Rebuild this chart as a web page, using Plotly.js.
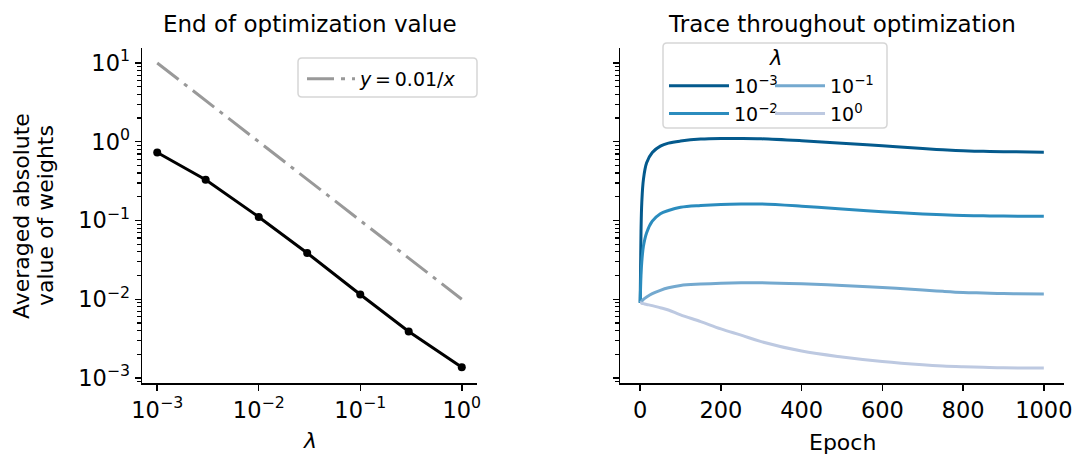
<!DOCTYPE html>
<html>
<head>
<meta charset="utf-8">
<script src="https://cdn.plot.ly/plotly-3.0.1.min.js"></script>
<style>html,body{margin:0;padding:0;background:#fff;}#chart{width:1074px;height:457px;}</style>
</head>
<body>
<div id="chart"></div>
<script>
// ---- data ----
const lambdas = [0.001, 0.003, 0.01, 0.03, 0.1, 0.3, 1];
const endValues = [0.73, 0.33, 0.111, 0.0387, 0.0115, 0.0039, 0.00137];
const refX = [0.001, 1];
const refY = [10, 0.01];

const epochs = [0, 2, 4, 8, 16, 30, 50, 70, 100, 150, 200, 250, 300, 400, 500, 600, 700, 750, 800, 850, 900, 1000];
const trace1e3 = [0.009, 0.07, 0.17, 0.33, 0.54, 0.73, 0.88, 0.96, 1.02, 1.08, 1.10, 1.10, 1.09, 1.03, 0.96, 0.89, 0.82, 0.79, 0.768, 0.755, 0.747, 0.738];
const trace1e2 = [0.009, 0.02, 0.03, 0.047, 0.07, 0.098, 0.122, 0.134, 0.147, 0.155, 0.160, 0.162, 0.162, 0.152, 0.140, 0.129, 0.121, 0.118, 0.1158, 0.1145, 0.1137, 0.113];
const trace1e1 = [0.009, 0.0092, 0.0095, 0.0100, 0.0107, 0.0118, 0.0130, 0.0140, 0.0150, 0.0156, 0.0160, 0.0162, 0.0162, 0.0157, 0.0150, 0.0141, 0.0131, 0.0126, 0.0122, 0.0120, 0.0118, 0.0117];
const trace1e0 = [0.009, 0.0090, 0.0089, 0.0088, 0.0086, 0.0083, 0.0078, 0.0073, 0.00635, 0.0052, 0.0042, 0.0035, 0.0029, 0.0022, 0.00185, 0.00162, 0.00147, 0.00142, 0.00139, 0.00137, 0.00135, 0.00134];
const seriesNames = ['10<sup>−3</sup>', '10<sup>−2</sup>', '10<sup>−1</sup>', '10<sup>0</sup>'];
const seriesColors = ['#045a8d', '#2b8cbe', '#74a9cf', '#bdc9e1'];
const seriesLegends = ['legend2', 'legend2', 'legend3', 'legend3'];

const yTickVals = [0.001, 0.01, 0.1, 1, 10];
const yTickText = ['10<sup>−3</sup>', '10<sup>−2</sup>', '10<sup>−1</sup>', '10<sup>0</sup>', '10<sup>1</sup>'];
const xTickVals = [0.001, 0.01, 0.1, 1];
const xTickText = ['10<sup>−3</sup>', '10<sup>−2</sup>', '10<sup>−1</sup>', '10<sup>0</sup>'];
const epochTicks = [0, 200, 400, 600, 800, 1000];

// minor log ticks (axis decoration)
const minorVals = [];
for (let e = -4; e <= 1; e++) for (let d = 2; d <= 9; d++) minorVals.push(d * Math.pow(10, e));

const FONT = 'DejaVu Sans, sans-serif';
const W = 1074, H = 457;
const px = v => v / W;
const py = v => 1 - v / H;

// rounded legend frame path (paper coords), decoration only
function frame(x0, y0, x1, y1, r) {
  const rx = r / W, ry = r / H;
  const X0 = px(x0), X1 = px(x1), Y0 = py(y1), Y1 = py(y0);
  return `M${X0 + rx},${Y0} L${X1 - rx},${Y0} Q${X1},${Y0} ${X1},${Y0 + ry} L${X1},${Y1 - ry} Q${X1},${Y1} ${X1 - rx},${Y1} ` +
         `L${X0 + rx},${Y1} Q${X0},${Y1} ${X0},${Y1 - ry} L${X0},${Y0 + ry} Q${X0},${Y0} ${X0 + rx},${Y0} Z`;
}

const traces = [
  {x: refX, y: refY, xaxis: 'x', yaxis: 'y', mode: 'lines', name: '<i>y</i>\u2009=\u20090.01/<i>x</i>',
   line: {color: '#999999', width: 3, dash: '27px,7px,4px,7px'}, legend: 'legend'},
  {x: lambdas, y: endValues, xaxis: 'x', yaxis: 'y', mode: 'lines+markers', showlegend: false,
   line: {color: '#000000', width: 3}, marker: {color: '#000000', size: 8}}
];
const seriesData = [trace1e3, trace1e2, trace1e1, trace1e0];
seriesData.forEach((ys, i) => {
  traces.push({x: epochs, y: ys, xaxis: 'x2', yaxis: 'y2', mode: 'lines', name: seriesNames[i],
    line: {color: seriesColors[i], width: 3, shape: 'spline', smoothing: 1},
    legend: seriesLegends[i]});
});

const axisCommon = {
  showline: true, linecolor: '#000', linewidth: 1.5, mirror: false,
  ticks: 'outside', ticklen: 6, tickwidth: 1.5, tickcolor: '#000',
  showgrid: false, zeroline: false, automargin: false,
  tickfont: {family: FONT, size: 22.5, color: '#000'}
};
const yRange = [-3.063, 1.19];
const minorTicks = {tickmode: 'array', tickvals: minorVals, ticks: 'outside', ticklen: 3.5, tickwidth: 1.2, tickcolor: '#000', showgrid: false};

const legendCommon = {
  orientation: 'v', xanchor: 'left', yanchor: 'top',
  bgcolor: 'rgba(0,0,0,0)', borderwidth: 0,
  font: {family: FONT, size: 19, color: '#000'},
  tracegroupgap: 0, itemwidth: 50
};

const layout = {
  width: W, height: H,
  margin: {l: 0, r: 0, t: 0, b: 0, autoexpand: false},
  paper_bgcolor: '#fff', plot_bgcolor: '#fff',
  font: {family: FONT, color: '#000'},
  xaxis: Object.assign({}, axisCommon, {
    type: 'log', domain: [px(142), px(477)], range: [-3.15, 0.15], anchor: 'y',
    tickmode: 'array', tickvals: xTickVals, ticktext: xTickText
  }),
  yaxis: Object.assign({}, axisCommon, {
    type: 'log', domain: [py(383), py(48)], range: yRange, anchor: 'x',
    tickmode: 'array', tickvals: yTickVals, ticktext: yTickText, minor: minorTicks
  }),
  xaxis2: Object.assign({}, axisCommon, {
    type: 'linear', domain: [px(620), px(1064)], range: [-50, 1050], anchor: 'y2',
    tickmode: 'array', tickvals: epochTicks
  }),
  yaxis2: Object.assign({}, axisCommon, {
    type: 'log', domain: [py(383), py(48)], range: yRange, anchor: 'x2',
    tickmode: 'array', tickvals: yTickVals, showticklabels: false, minor: minorTicks
  }),
  legend: Object.assign({}, legendCommon, {x: px(302), y: py(60), itemwidth: 48}),
  legend2: Object.assign({}, legendCommon, {x: px(664), y: py(67), itemwidth: 60}),
  legend3: Object.assign({}, legendCommon, {x: px(770), y: py(67), itemwidth: 50}),
  shapes: [
    {type: 'path', xref: 'paper', yref: 'paper', path: frame(298, 58, 477, 97, 4), layer: 'above',
     line: {color: '#d6d6d6', width: 1.5}, fillcolor: 'rgba(255,255,255,0.8)'},
    {type: 'path', xref: 'paper', yref: 'paper', path: frame(663, 43, 887, 128, 4), layer: 'above',
     line: {color: '#d6d6d6', width: 1.5}, fillcolor: 'rgba(255,255,255,0.8)'}
  ],
  annotations: [
    {text: 'End of optimization value', xref: 'paper', yref: 'paper', x: px(309.5), y: py(24),
     xanchor: 'center', yanchor: 'middle', showarrow: false, font: {family: FONT, size: 23, color: '#000'}},
    {text: 'Trace throughout optimization', xref: 'paper', yref: 'paper', x: px(842), y: py(24),
     xanchor: 'center', yanchor: 'middle', showarrow: false, font: {family: FONT, size: 23, color: '#000'}},
    {text: 'Averaged absolute', xref: 'paper', yref: 'paper', x: px(21), y: py(216),
     xanchor: 'center', yanchor: 'middle', textangle: -90, showarrow: false, font: {family: FONT, size: 22, color: '#000'}},
    {text: 'value of weights', xref: 'paper', yref: 'paper', x: px(45), y: py(216),
     xanchor: 'center', yanchor: 'middle', textangle: -90, showarrow: false, font: {family: FONT, size: 22, color: '#000'}},
    {text: '<i>λ</i>', xref: 'paper', yref: 'paper', x: px(309.5), y: py(440),
     xanchor: 'center', yanchor: 'middle', showarrow: false, font: {family: FONT, size: 22, color: '#000'}},
    {text: 'Epoch', xref: 'paper', yref: 'paper', x: px(842), y: py(442),
     xanchor: 'center', yanchor: 'middle', showarrow: false, font: {family: FONT, size: 22, color: '#000'}},
    {text: '<i>λ</i>', xref: 'paper', yref: 'paper', x: px(775), y: py(58),
     xanchor: 'center', yanchor: 'middle', showarrow: false, font: {family: FONT, size: 21, color: '#000'}}
  ]
};

Plotly.newPlot('chart', traces, layout, {staticPlot: true, displayModeBar: false});
</script>
</body>
</html>
